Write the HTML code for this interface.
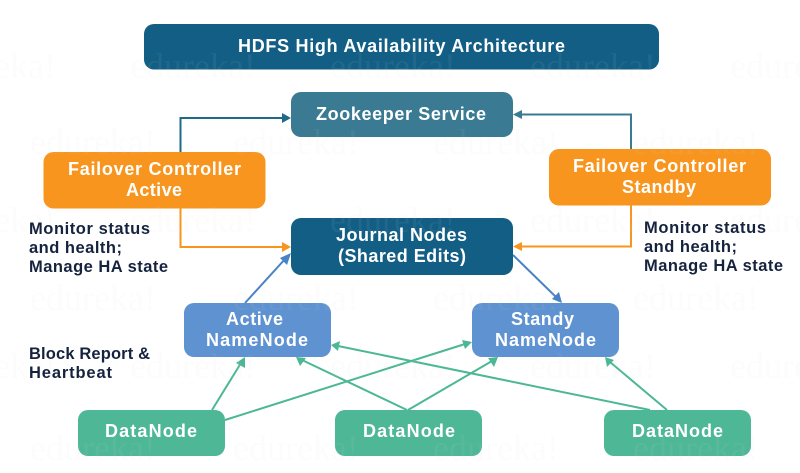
<!DOCTYPE html>
<html><head><meta charset="utf-8"><style>
html,body{margin:0;padding:0;background:#fff}
svg{display:block}
text{font-family:"Liberation Sans",sans-serif;font-weight:700}
.w{fill:#fff;font-size:18px}
.l{fill:#15233f;font-size:16.5px}
.m{fill:#dcdcdc;opacity:.07;font-size:36px;font-family:"Liberation Serif",serif;font-weight:400}
</style></head><body>
<svg width="800" height="473" viewBox="0 0 800 473" xmlns="http://www.w3.org/2000/svg">
<rect width="800" height="473" fill="#fff"/>
<g fill="none" stroke-width="2">
<path d="M180.500 152V118H283" stroke="#1f6a8a"/>
<path d="M631 149V114.500H521" stroke="#3a7a93"/>
<path d="M180.500 208V247H283" stroke="#f8951f"/>
<path d="M631 205V246.500H521" stroke="#f8951f"/>
<path d="M245 303L286 258" stroke="#4a82c4"/>
<path d="M513 255L557 298" stroke="#4a82c4"/>
<g stroke="#4cb795">
<path d="M212 410L241 363"/>
<path d="M225 420L465 344"/>
<path d="M407 410L302 360"/>
<path d="M408 410L492 361"/>
<path d="M650 410L338 346"/>
<path d="M667 410L610 362"/>
</g></g>
<polygon points="291,118 282,113 282,123" fill="#1f6a8a"/>
<polygon points="513,114.500 522,110 522,119" fill="#3a7a93"/>
<polygon points="291,247 282,242 282,252" fill="#f8951f"/>
<polygon points="513,246.500 522,242 522,251" fill="#f8951f"/>
<polygon points="291,253 280,258 287,265" fill="#4a82c4"/>
<polygon points="562,303 552,299 559,292" fill="#4a82c4"/>
<g fill="#4cb795">
<polygon points="245,357 236,363 245,368"/>
<polygon points="472,342 462,340 465,349"/>
<polygon points="296,357 300,366 306,358"/>
<polygon points="498,357 488,358 494,367"/>
<polygon points="331,345 340,341 338,351"/>
<polygon points="605,357 607,367 614,360"/>
</g>
<rect x="144" y="24" width="515" height="45.500" rx="10" fill="#125e85"/>
<rect x="291" y="92" width="222" height="45" rx="10" fill="#3a7a93"/>
<rect x="43.500" y="152" width="222" height="56.500" rx="10" fill="#f8951f"/>
<rect x="549" y="149" width="222" height="56.500" rx="10" fill="#f8951f"/>
<rect x="291" y="218" width="222" height="57" rx="10" fill="#125e85"/>
<rect x="184" y="303" width="147" height="54" rx="10" fill="#5e92d0"/>
<rect x="472" y="303" width="147" height="54" rx="10" fill="#5e92d0"/>
<rect x="78" y="410" width="147" height="46" rx="10" fill="#4eb796"/>
<rect x="335" y="410" width="147" height="46" rx="10" fill="#4eb796"/>
<rect x="604" y="410" width="147" height="46" rx="10" fill="#4eb796"/>
<g>
<text class="m" x="-70" y="78">edureka!</text><text class="m" x="130" y="78">edureka!</text><text class="m" x="330" y="78">edureka!</text><text class="m" x="530" y="78">edureka!</text><text class="m" x="730" y="78">edureka!</text>
<text class="m" x="30" y="154">edureka!</text><text class="m" x="233" y="154">edureka!</text><text class="m" x="433" y="154">edureka!</text><text class="m" x="633" y="154">edureka!</text>
<text class="m" x="-70" y="232">edureka!</text><text class="m" x="130" y="232">edureka!</text><text class="m" x="330" y="232">edureka!</text><text class="m" x="530" y="232">edureka!</text><text class="m" x="730" y="232">edureka!</text>
<text class="m" x="30" y="310">edureka!</text><text class="m" x="233" y="310">edureka!</text><text class="m" x="433" y="310">edureka!</text><text class="m" x="633" y="310">edureka!</text>
<text class="m" x="-70" y="378">edureka!</text><text class="m" x="130" y="378">edureka!</text><text class="m" x="330" y="378">edureka!</text><text class="m" x="530" y="378">edureka!</text><text class="m" x="730" y="378">edureka!</text>
<text class="m" x="30" y="460">edureka!</text><text class="m" x="233" y="460">edureka!</text><text class="m" x="433" y="460">edureka!</text><text class="m" x="633" y="460">edureka!</text>
</g>
<text class="w" x="238" y="52" textLength="327">HDFS High Availability Architecture</text>
<text class="w" x="316" y="120" textLength="170">Zookeeper Service</text>
<text class="w" x="68" y="175" textLength="173">Failover Controller</text>
<text class="w" x="126" y="196" textLength="56">Active</text>
<text class="w" x="573" y="172" textLength="173">Failover Controller</text>
<text class="w" x="622" y="193" textLength="74">Standby</text>
<text class="w" x="336" y="241" textLength="131">Journal Nodes</text>
<text class="w" x="338" y="262" textLength="128">(Shared Edits)</text>
<text class="w" x="226" y="325" textLength="57">Active</text>
<text class="w" x="206" y="346" textLength="102">NameNode</text>
<text class="w" x="511" y="325" textLength="63">Standy</text>
<text class="w" x="495" y="346" textLength="101">NameNode</text>
<text class="w" x="105" y="437" textLength="92">DataNode</text>
<text class="w" x="363" y="437" textLength="92">DataNode</text>
<text class="w" x="632" y="437" textLength="91">DataNode</text>
<text class="l" x="29" y="234" textLength="121">Monitor status</text>
<text class="l" x="29" y="253" textLength="93">and health;</text>
<text class="l" x="29" y="272" textLength="139">Manage HA state</text>
<text class="l" x="644" y="233" textLength="122">Monitor status</text>
<text class="l" x="644" y="252" textLength="93">and health;</text>
<text class="l" x="644" y="271" textLength="139">Manage HA state</text>
<text class="l" x="29" y="359" textLength="121">Block Report &amp;</text>
<text class="l" x="29" y="378" textLength="83">Heartbeat</text>
</svg>
</body></html>
